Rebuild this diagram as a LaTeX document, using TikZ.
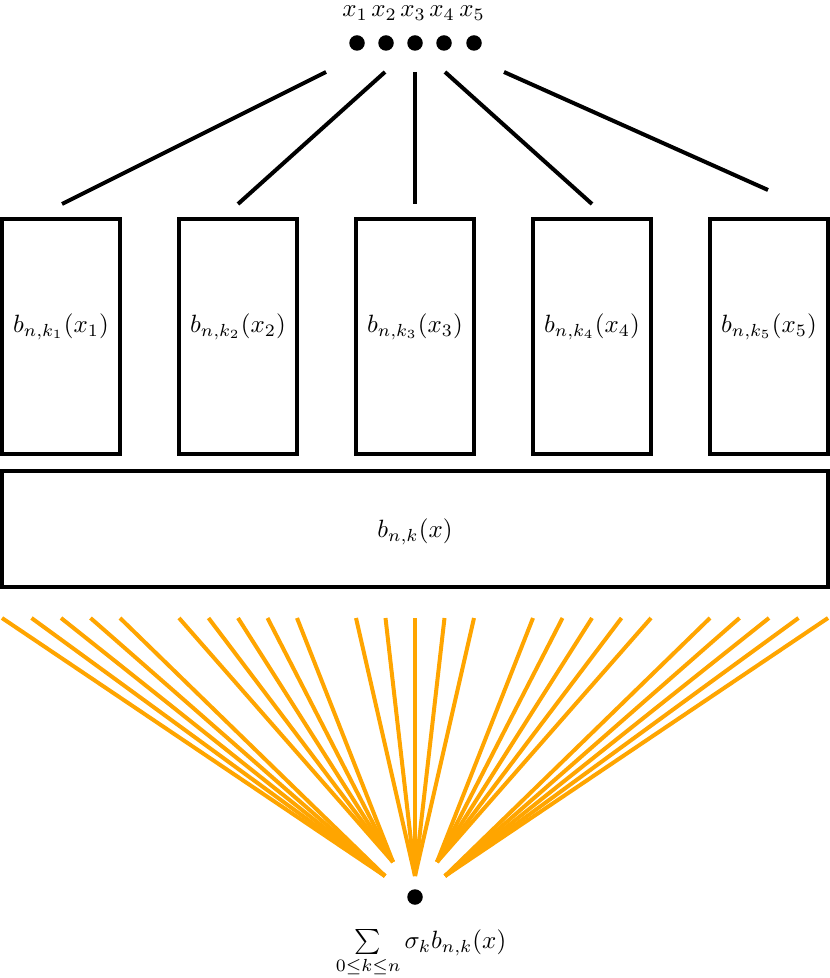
\documentclass[tikz,border=0pt]{standalone}
\definecolor{fanorange}{RGB}{255,165,0}
\begin{document}
\begin{tikzpicture}[x=0.4pt,y=-0.4pt,
  boxnode/.style={draw, rectangle, minimum width=47.2pt, minimum height=94pt, inner sep=0pt, line width=1.6pt},
  bigbox/.style={draw, rectangle, minimum width=330.4pt, minimum height=46.4pt, inner sep=0pt, line width=1.6pt},
  dotnode/.style={circle, fill=black, inner sep=0pt, minimum size=6.2pt},
  link/.style={line width=1.6pt},
  fan/.style={draw=fanorange, line width=1.6pt}]
\useasboundingbox (0,0) rectangle (830,978);

% input dots and labels
\foreach \i/\x in {1/357,2/386,3/415,4/444,5/474}{
  \node[dotnode] (d\i) at (\x,43) {};
  \node (l\i) at (\x-2,13) {$x_\i$};
}

% boxes
\foreach \i in {1,...,5}{
  \pgfmathsetmacro{\cx}{61+177*(\i-1)}
  \node[boxnode] (b\i) at (\cx,336.5) {};
  \node (bt\i) at ([yshift=4pt]b\i.center) {$b_{n,k_\i}(x_\i)$};
}
\node[bigbox] (B) at (415,529) {};
\node (Bt) at ([yshift=-1pt]B.center) {$b_{n,k}(x)$};

% black connector end points
\coordinate (s1) at (326,72);  \coordinate (e1) at (62,204);
\coordinate (s2) at (385,72);  \coordinate (e2) at (238,204);
\coordinate (s3) at (415,72);  \coordinate (e3) at (415,204);
\coordinate (s4) at (445,72);  \coordinate (e4) at (592,204);
\coordinate (s5) at (504,72);  \coordinate (e5) at (768,190);
\foreach \i in {1,...,5}{ \draw[link] (s\i) -- (e\i); }

% output
\node[dotnode] (o) at (415,897) {};
\node[anchor=north] (sumlabel) at (421,921)
  {$\textstyle\sum\limits_{0\le k\le n}\sigma_k b_{n,k}(x)$};

% fan end points
\coordinate (f1) at (385,876);
\coordinate (f2) at (393,862);
\coordinate (f3) at (415,876);
\coordinate (f4) at (437,862);
\coordinate (f5) at (445,876);

\foreach \g in {1,...,5}{
  \foreach \j in {0,...,4}{
    \pgfmathsetmacro{\tx}{2+177*(\g-1)+29.5*\j}
    \coordinate (t\g\j) at (\tx,618);
    \draw[fan] (t\g\j) -- (f\g);
  }
}
\end{tikzpicture}
\end{document}
